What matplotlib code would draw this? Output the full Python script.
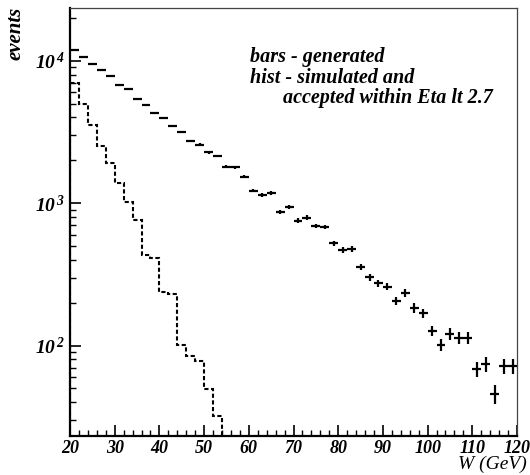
import numpy as np
import matplotlib
matplotlib.use("Agg")
import matplotlib.pyplot as plt
from matplotlib.ticker import FixedLocator, MultipleLocator, LogLocator, FuncFormatter, NullFormatter

plt.rcParams['font.family'] = 'Liberation Serif'
plt.rcParams['mathtext.fontset'] = 'custom'
plt.rcParams['mathtext.it'] = 'Liberation Serif:italic:bold'
plt.rcParams['mathtext.rm'] = 'Liberation Serif:italic:bold'

#generated events, 2 GeV bins (centres 21..119)
w_centres = np.arange(21, 120, 2)
generated = [11900, 10700, 9510, 8630, 7830, 6810, 6310, 5430, 4920, 4320,
             3950, 3490, 3180, 2750, 2580, 2280, 2150, 1810, 1790, 1540,
             1225, 1140, 1175, 873, 947, 756, 793, 693, 682, 524,
             470, 478, 356, 302, 274, 260, 207, 233, 184, 169,
             127, 101, 121, 113, 113, 69, 74, 46, 72, 72]
gen_err = [109, 103, 98, 93, 88, 83, 79, 74, 70, 66,
           63, 59, 56, 52, 51, 48, 46, 43, 42, 39,
           35, 34, 34, 30, 31, 27, 28, 26, 26, 23,
           22, 22, 19, 17, 17, 16, 14, 15, 14, 13,
           11, 10, 11, 11, 11, 8.3, 8.6, 6.8, 8.5, 8.5]

#simulated and accepted (Eta < 2.7)
hist_edges = np.arange(20, 55, 2)
accepted = [6970, 4950, 3550, 2540, 1910, 1395, 1026, 764, 433, 415,
            239, 231, 101, 84.7, 78.2, 49.4, 31.8]

fig = plt.figure(figsize=(5.3, 4.75), dpi=100)
ax = fig.add_axes([0.1321, 0.0827, 0.8434, 0.9005])

ax.errorbar(w_centres, generated, xerr=1, yerr=gen_err, fmt='none',
            ecolor='black', elinewidth=1.6, capsize=0)
ax.stairs(accepted, hist_edges, baseline=1, color='black',
          linewidth=1.5, linestyle=(0, (2, 1.2)))

ax.set_yscale('log')
ax.set_xlim(20, 120)
ax.set_ylim(23.3, 23500)

ax.xaxis.set_major_locator(MultipleLocator(10))
ax.xaxis.set_minor_locator(MultipleLocator(2))
ax.yaxis.set_major_locator(FixedLocator([100, 1000, 10000]))
ax.yaxis.set_minor_locator(LogLocator(base=10, subs=np.arange(2, 10)))
ax.yaxis.set_minor_formatter(NullFormatter())
ax.yaxis.set_major_formatter(FuncFormatter(lambda v, p: r'$\mathit{10^{\,%d}}$' % round(np.log10(v))))

ax.tick_params(axis='both', which='major', direction='in', length=8, width=1.2,
               top=False, right=False)
ax.tick_params(axis='both', which='minor', direction='in', length=4, width=1.0,
               top=False, right=False)
ax.tick_params(axis='x', pad=3, labelsize=13)
ax.tick_params(axis='y', pad=4, labelsize=14)
for lab in ax.get_xticklabels():
    lab.set_fontstyle('italic')
    lab.set_fontweight('bold')

ax.spines['left'].set_linewidth(1.6)
ax.spines['bottom'].set_linewidth(1.6)
ax.spines['top'].set_linewidth(0.9)
ax.spines['right'].set_linewidth(0.9)
ax.spines['top'].set_color('#444444')
ax.spines['right'].set_color('#444444')

fig.text(0.029, 0.985, 'events', rotation=90, ha='center', va='top',
         fontsize=15, style='italic', fontweight='bold')
fig.text(0.993, 0.013, 'W (GeV)', ha='right', va='baseline',
         fontsize=14, style='italic')

txt = dict(transform=ax.transAxes, ha='left', va='baseline', fontsize=14.5,
           style='italic', fontweight='bold')
ax.text(0.4027, 0.8737, 'bars - generated', **txt)
ax.text(0.4027, 0.8246, 'hist - simulated and', **txt)
ax.text(0.4765, 0.7779, 'accepted within Eta lt 2.7', **txt)

fig.savefig('out.png', dpi=100)
